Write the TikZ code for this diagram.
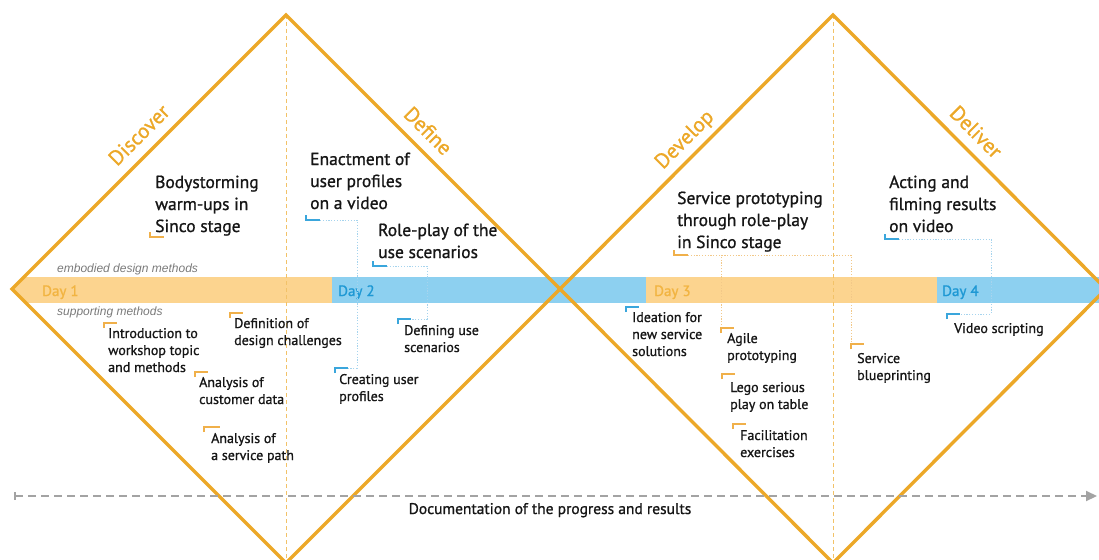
\documentclass[tikz,border=0pt]{standalone}
\usepackage{fontspec}
\setmainfont{PT Sans}[FakeBold=1.0]
\newfontfamily\arialf{Liberation Sans}
\usetikzlibrary{arrows.meta,calc}
\definecolor{dia}{HTML}{ECA828}
\definecolor{barO}{HTML}{FCD48F}
\definecolor{barB}{HTML}{8DD0F0}
\definecolor{dayO}{HTML}{F2B441}
\definecolor{dayB}{HTML}{1E98D4}
\definecolor{grayT}{HTML}{7A7A7A}
\definecolor{arr}{HTML}{A3A3A3}
\definecolor{brO}{HTML}{F0B04A}
\definecolor{brB}{HTML}{3AA6DC}
\definecolor{dotO}{HTML}{F2C888}
\definecolor{dotB}{HTML}{A6D4EE}
\definecolor{txt}{HTML}{161616}
\newcommand{\mlines}[1]{\begin{tabular}[t]{@{}l@{}}#1\end{tabular}}
\begin{document}
\begin{tikzpicture}[x=1pt,y=-1pt,
  big/.style={anchor=base west,inner sep=0pt,font=\fontsize{17.5}{22}\selectfont,text=txt},
  small/.style={anchor=base west,inner sep=0pt,font=\fontsize{14}{17}\selectfont,text=txt},
  phase/.style={anchor=base,inner sep=0pt,font=\fontsize{21}{24}\selectfont,text=dia},
  daylbl/.style={anchor=base west,inner sep=0pt,font=\fontsize{15}{18}\selectfont},
  note/.style={anchor=base west,inner sep=0pt,font=\arialf\itshape\fontsize{12}{14}\selectfont,text=grayT},
  diamond/.style={draw=dia,line width=3.4pt,line join=miter},
  axis/.style={draw=dia!70,line width=0.8pt,dash pattern=on 4pt off 3pt},
  brkO/.style={draw=brO,line width=1.4pt},
  brkB/.style={draw=brB,line width=1.4pt},
  linkO/.style={draw=dotO,line width=0.9pt,dash pattern=on 1.2pt off 1.6pt},
  linkB/.style={draw=dotB,line width=0.9pt,dash pattern=on 1.2pt off 1.6pt},
  docarrow/.style={draw=arr,line width=2pt,dash pattern=on 8pt off 5pt,
     {Bar[width=8pt,line width=1.5pt]}-{Triangle[length=11pt,width=10pt]}}
]
\useasboundingbox (0,0) rectangle (1099,559);
\clip (0,0) rectangle (1099,559);

% coordinates of the diamonds
\coordinate (L) at (12,289);
\coordinate (T1) at (286,15);
\coordinate (M) at (560,289);
\coordinate (B1) at (286,563);
\coordinate (T2) at (833,15);
\coordinate (R) at (1106,289);
\coordinate (B2) at (833,563);

% bar
\begin{scope}
\clip (L) -- (T1) -- (1099,15) -- (1099,563) -- (B1) -- cycle;
\fill[barO] (12,277) rectangle (332,303);
\fill[barB] (332,277) rectangle (646,303);
\fill[barO] (646,277) rectangle (937,303);
\fill[barB] (937,277) rectangle (1099,303);
\end{scope}
\node[daylbl,text=dayO] (d1) at (42,296) {Day 1};
\node[daylbl,text=dayB] (d2) at (338,296) {Day 2};
\node[daylbl,text=dayO] (d3) at (654,296) {Day 3};
\node[daylbl,text=dayB] (d4) at (942,296) {Day 4};

% axes
\draw[axis] (T1) -- (B1);
\draw[axis] (T2) -- (B2);

% diamonds
\draw[diamond] (L) -- (T1) -- (M) -- (B1) -- cycle;
\draw[diamond] (M) -- (T2) -- (R) -- (B2) -- cycle;

% phase labels
\node[phase,rotate=45] (disc) at (144,140) {Discover};
\node[phase,rotate=-45] (defi) at (423,136) {Define};
\node[phase,rotate=45] (deve) at (689,144) {Develop};
\node[phase,rotate=-45] (deli) at (971,137) {Deliver};

% notes
\node[note] (emb) at (57,272) {embodied design methods};
\node[note] (sup) at (57,315) {supporting methods};

% documentation arrow
\coordinate (docL) at (14,496);
\coordinate (docR) at (1097,496);
\draw[docarrow] (docL) -- (docR);
\node[anchor=base,inner sep=0pt,font=\fontsize{15.5}{18}\selectfont,text=txt] (doc) at (550,514) {Documentation of the progress and results};

% embodied methods (top)
\node[big] (body) at (155,188) {\mlines{Bodystorming\\warm-ups in\\Sinco stage}};
\node[big] (enact) at (310,165) {\mlines{Enactment of\\user profiles\\on a video}};
\node[big] (role) at (378,236) {\mlines{Role-play of the\\use scenarios}};
\node[big] (serv) at (677,204) {\mlines{Service prototyping\\through role-play\\in Sinco stage}};
\node[big] (act) at (889,188) {\mlines{Acting and\\filming results\\on video}};

% supporting methods (bottom)
\node[small] (intro) at (108,338) {\mlines{Introduction to\\workshop topic\\and methods}};
\node[small] (defn) at (234,328) {\mlines{Definition of\\design challenges}};
\node[small] (anc) at (199,387) {\mlines{Analysis of\\customer data}};
\node[small] (ans) at (211,443) {\mlines{Analysis of\\a service path}};
\node[small] (create) at (339,384) {\mlines{Creating user\\profiles}};
\node[small] (defuse) at (404,335) {\mlines{Defining use\\scenarios}};
\node[small] (idea) at (632,322) {\mlines{Ideation for\\new service\\solutions}};
\node[small] (agile) at (727,343) {\mlines{Agile\\prototyping}};
\node[small] (lego) at (730,392) {\mlines{Lego serious\\play on table}};
\node[small] (fac) at (740,440) {\mlines{Facilitation\\exercises}};
\node[small] (blue) at (857,363) {\mlines{Service\\blueprinting}};
\node[small] (video) at (954,333) {Video scripting};

% bracket corners
\coordinate (bBody) at (150,237);
\coordinate (bEnact) at (306,220);
\coordinate (bRole) at (373,266);
\coordinate (bServ) at (674,255);
\coordinate (bAct) at (885,239);
\coordinate (bIntro) at (104,323);
\coordinate (bDefn) at (230,313);
\coordinate (bAnC) at (195,372);
\coordinate (bAnS) at (204,427);
\coordinate (bCreate) at (335,368);
\coordinate (bDefUse) at (398,319);
\coordinate (bIdea) at (626,307);
\coordinate (bAgile) at (721,328);
\coordinate (bLego) at (722,374);
\coordinate (bFac) at (733,424);
\coordinate (bBlue) at (851,344);
\coordinate (bVideo) at (947,314);

% dotted links
\draw[linkB] ($(bEnact)+(14,0)$) -| ($(bCreate)+(22,0)$) -- ($(bCreate)+(13,0)$);
\draw[linkB] ($(bRole)+(14,0)$) -| ($(bDefUse)+(29,0)$) -- ($(bDefUse)+(13,0)$);
\draw[linkO] ($(bServ)+(14,0)$) -| (bBlue);
\draw[linkO] (bAgile) -- (bAgile |- bServ);
\draw[linkB] ($(bAct)+(14,0)$) -| ($(bVideo)+(44,0)$) -- ($(bVideo)+(14,0)$);

% brackets (below text)
\draw[brkO] ($(bBody)+(0,-5)$) -- (bBody) -- ++(14,0);
\draw[brkB] ($(bEnact)+(0,-5)$) -- (bEnact) -- ++(14,0);
\draw[brkB] ($(bRole)+(0,-5)$) -- (bRole) -- ++(14,0);
\draw[brkO] ($(bServ)+(0,-5)$) -- (bServ) -- ++(14,0);
\draw[brkB] ($(bAct)+(0,-5)$) -- (bAct) -- ++(14,0);
% brackets (above text)
\draw[brkO] ($(bIntro)+(0,5)$) -- (bIntro) -- ++(13,0);
\draw[brkO] ($(bDefn)+(0,5)$) -- (bDefn) -- ++(13,0);
\draw[brkO] ($(bAnC)+(0,5)$) -- (bAnC) -- ++(13,0);
\draw[brkO] ($(bAnS)+(0,5)$) -- (bAnS) -- ++(16,0);
\draw[brkB] ($(bCreate)+(0,5)$) -- (bCreate) -- ++(13,0);
\draw[brkB] ($(bDefUse)+(0,5)$) -- (bDefUse) -- ++(13,0);
\draw[brkB] ($(bIdea)+(0,5)$) -- (bIdea) -- ++(13,0);
\draw[brkO] ($(bAgile)+(0,5)$) -- (bAgile) -- ++(13,0);
\draw[brkO] ($(bLego)+(0,5)$) -- (bLego) -- ++(13,0);
\draw[brkO] ($(bFac)+(0,5)$) -- (bFac) -- ++(13,0);
\draw[brkO] ($(bBlue)+(0,5)$) -- (bBlue) -- ++(13,0);
\draw[brkB] ($(bVideo)+(0,5)$) -- (bVideo) -- ++(13,0);
\end{tikzpicture}
\end{document}
